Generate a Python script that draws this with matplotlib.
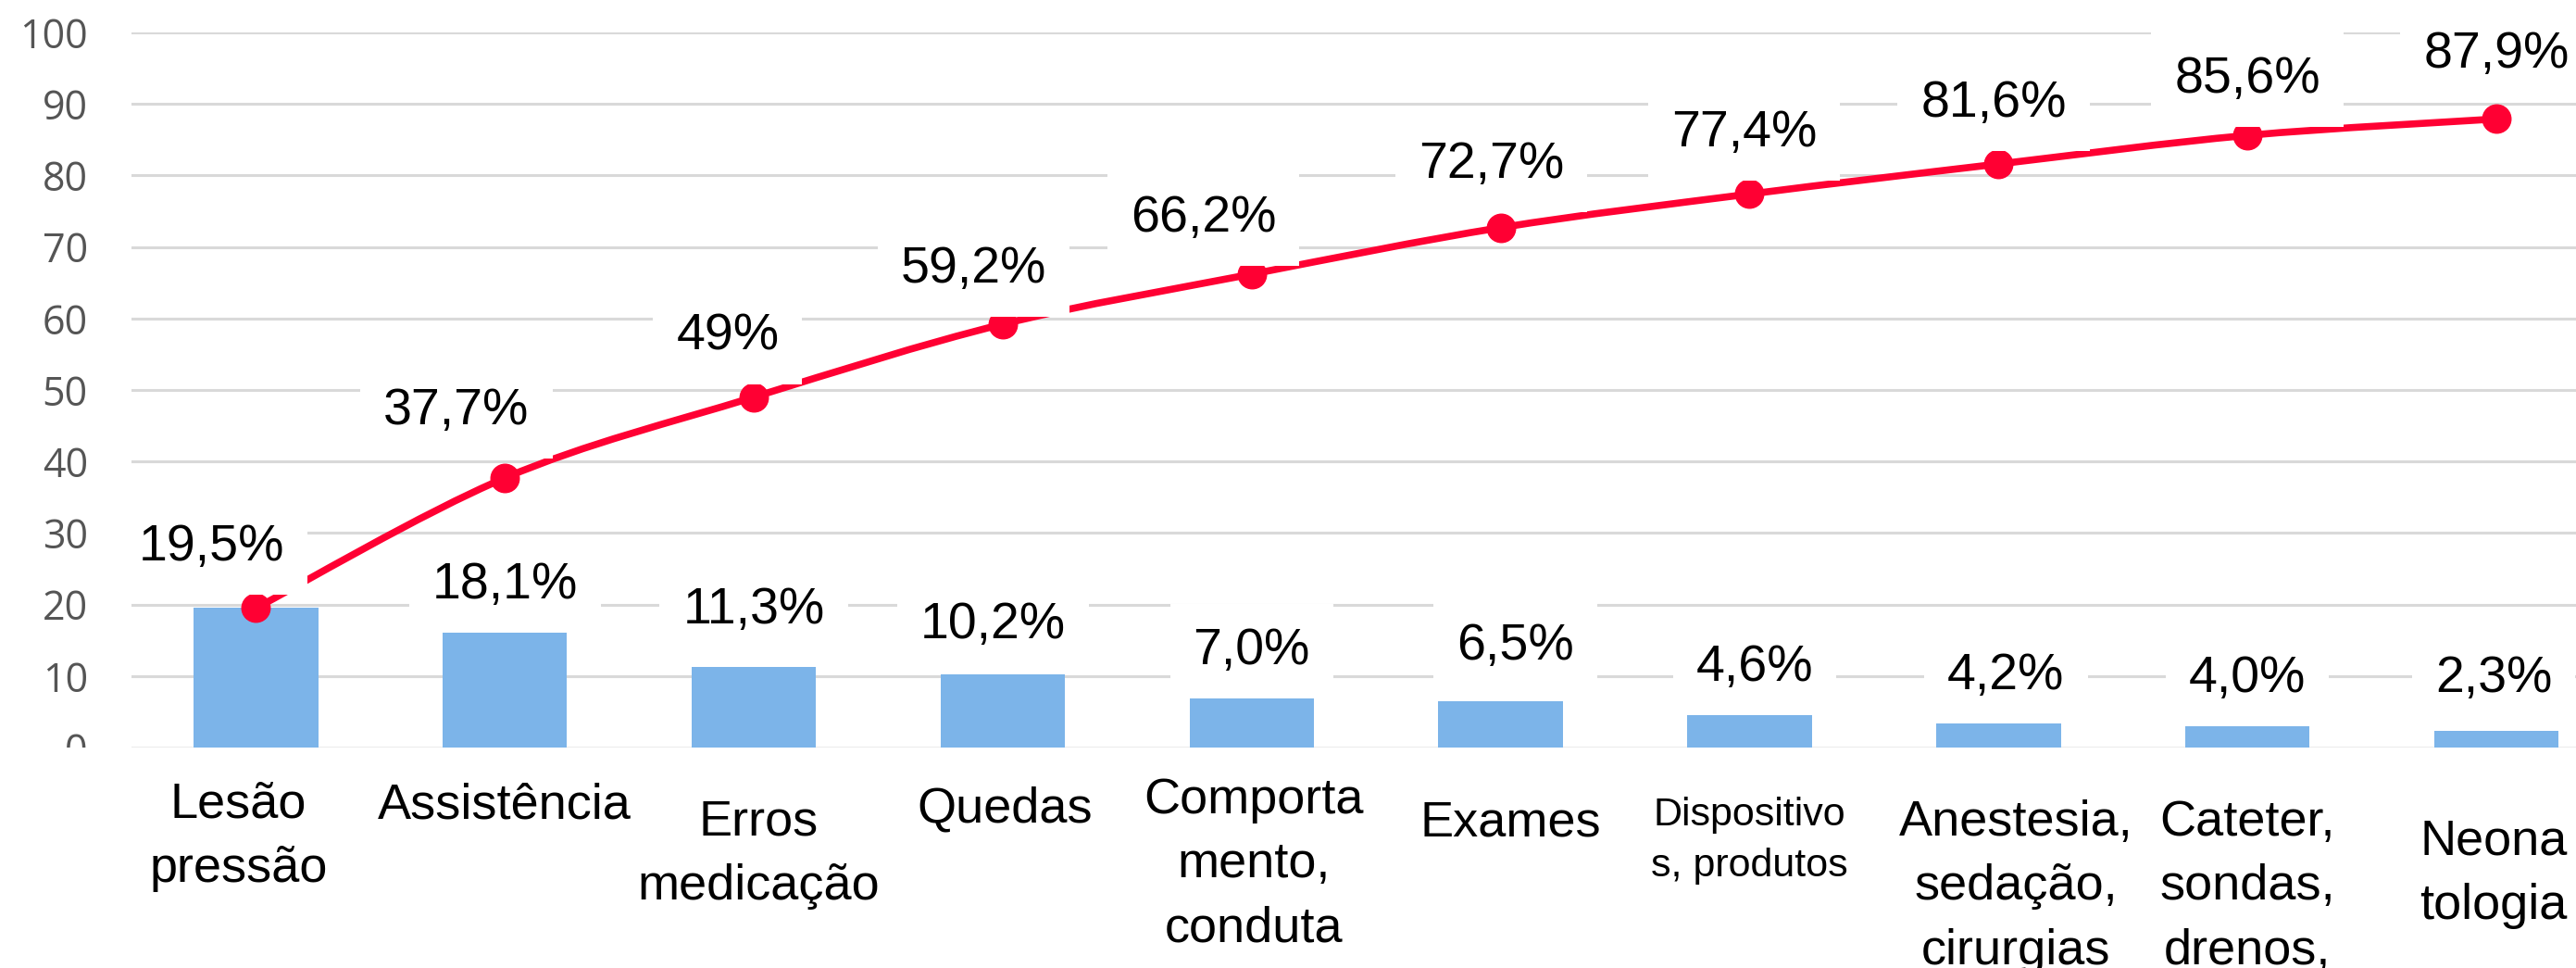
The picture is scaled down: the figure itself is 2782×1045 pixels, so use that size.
import matplotlib
matplotlib.use("Agg")
import matplotlib.pyplot as plt
from matplotlib.path import Path
from matplotlib.patches import PathPatch, Rectangle

# data
categories = [
    "Lesão\npressão",
    "Assistência",
    "Erros\nmedicação",
    "Quedas",
    "Comporta\nmento,\nconduta",
    "Exames",
    "Dispositivo\ns, produtos",
    "Anestesia,\nsedação,\ncirurgias",
    "Cateter,\nsondas,\ndrenos,",
    "Neona\ntologia",
]
share = [19.5, 18.1, 11.3, 10.2, 7.0, 6.5, 4.6, 4.2, 4.0, 2.3]
cumulative = [19.5, 37.7, 49.0, 59.2, 66.2, 72.7, 77.4, 81.6, 85.6, 87.9]
share_labels = ["", "18,1%", "11,3%", "10,2%", "7,0%", "6,5%", "4,6%", "4,2%", "4,0%", "2,3%"]
cumulative_labels = ["19,5%", "37,7%", "49%", "59,2%", "66,2%", "72,7%", "77,4%", "81,6%", "85,6%", "87,9%"]
y_ticks = [0, 10, 20, 30, 40, 50, 60, 70, 80, 90, 100]

# layout nudges for the hand-placed text boxes
cum_dx = [-0.18, -0.195, -0.105, -0.116, -0.194, -0.037, -0.022, -0.02, 0.0, 0.0]
cum_dy = [9.3, 10.1, 9.2, 8.4, 8.5, 9.6, 9.2, 9.2, 8.6, 9.8]
bar_dx = [0.0, 0.0, 0.0, -0.04, 0.0, 0.06, 0.02, 0.03, 0.0, -0.01]
bar_dy = [0.0, 5.3, 8.7, 7.7, 7.2, 8.4, 7.3, 6.6, 6.3, 8.0]
cat_dx = [-0.07, 0.0, 0.02, 0.01, 0.01, 0.04, 0.0, 0.07, 0.0, -0.01]
cat_drop = [26, 27, 40, 30, 23, 41, 38, 40, 40, 55]
cat_size = [39, 39, 39, 39, 39, 39, 31, 39, 39, 39]

BAR_COLOR = "#7CB4E9"
LINE_COLOR = "#FF0033"
FONT = ["Liberation Sans", "DejaVu Sans"]


def smooth_path(xs, ys):
    n = len(xs)
    verts = [(xs[0], ys[0])]
    codes = [Path.MOVETO]
    for i in range(n - 1):
        p0 = max(i - 1, 0)
        p3 = min(i + 2, n - 1)
        c1 = (xs[i] + (xs[i + 1] - xs[p0]) / 6, ys[i] + (ys[i + 1] - ys[p0]) / 6)
        c2 = (xs[i + 1] - (xs[p3] - xs[i]) / 6, ys[i + 1] - (ys[p3] - ys[i]) / 6)
        verts += [c1, c2, (xs[i + 1], ys[i + 1])]
        codes += [Path.CURVE4] * 3
    return Path(verts, codes)


W, H = 2782, 1045
fig = plt.figure(figsize=(W / 100, H / 100), dpi=100)
left, bottom, top = 142 / W, 1 - 807 / H, 1 - 35 / H
ax = fig.add_axes([left, bottom, 1 - left, top - bottom])

x = list(range(len(categories)))
ax.bar(x, share, width=0.5, color=BAR_COLOR, zorder=2)

ax.add_patch(PathPatch(smooth_path(x, cumulative), facecolor="none", edgecolor=LINE_COLOR,
                       lw=5.5, capstyle="round", joinstyle="round", zorder=3))
ax.plot(x, cumulative, linestyle="none", marker="o", markersize=22, color=LINE_COLOR, zorder=4)

box = dict(boxstyle="square,pad=0.45", fc="white", ec="none")
for i, lab in enumerate(cumulative_labels):
    ax.text(i + cum_dx[i], cumulative[i] + cum_dy[i], lab, ha="center", va="center_baseline",
            fontsize=40, family=FONT, color="black", bbox=box, zorder=6, clip_on=False)
for i, lab in enumerate(share_labels):
    if lab:
        ax.text(i + bar_dx[i], share[i] + bar_dy[i], lab, ha="center", va="center_baseline",
                fontsize=40, family=FONT, color="black", bbox=box, zorder=5, clip_on=False)

for i, lab in enumerate(categories):
    ax.annotate(lab, xy=(i + cat_dx[i], 0), xycoords=("data", "axes fraction"),
                xytext=(0, -cat_drop[i]), textcoords="offset points",
                ha="center", va="top", multialignment="center", fontsize=cat_size[i],
                family=FONT, linespacing=1.5, annotation_clip=False)

ax.set_xlim(-0.5, 9.32)
ax.set_ylim(0, 100)
ax.set_xticks([])
ax.set_yticks(y_ticks)
ax.set_yticklabels([str(t) for t in y_ticks], family=["Open Sans", "DejaVu Sans"],
                   fontsize=31, color="#555555")
ax.tick_params(axis="y", length=0, pad=34)
ax.yaxis.grid(True, color="#D9D9D9", lw=2.2)
ax.get_ygridlines()[0].set_visible(False)
ax.axhline(0, color="#EBEBEB", lw=1.5, zorder=1)
ax.set_axisbelow(True)
for spine in ax.spines.values():
    spine.set_visible(False)

# the "0" tick label is cut by the area below the plot
fig.add_artist(Rectangle((0, 0), left, bottom, transform=fig.transFigure,
                         facecolor="white", edgecolor="none", zorder=10))

fig.savefig("out.png", dpi=100)
